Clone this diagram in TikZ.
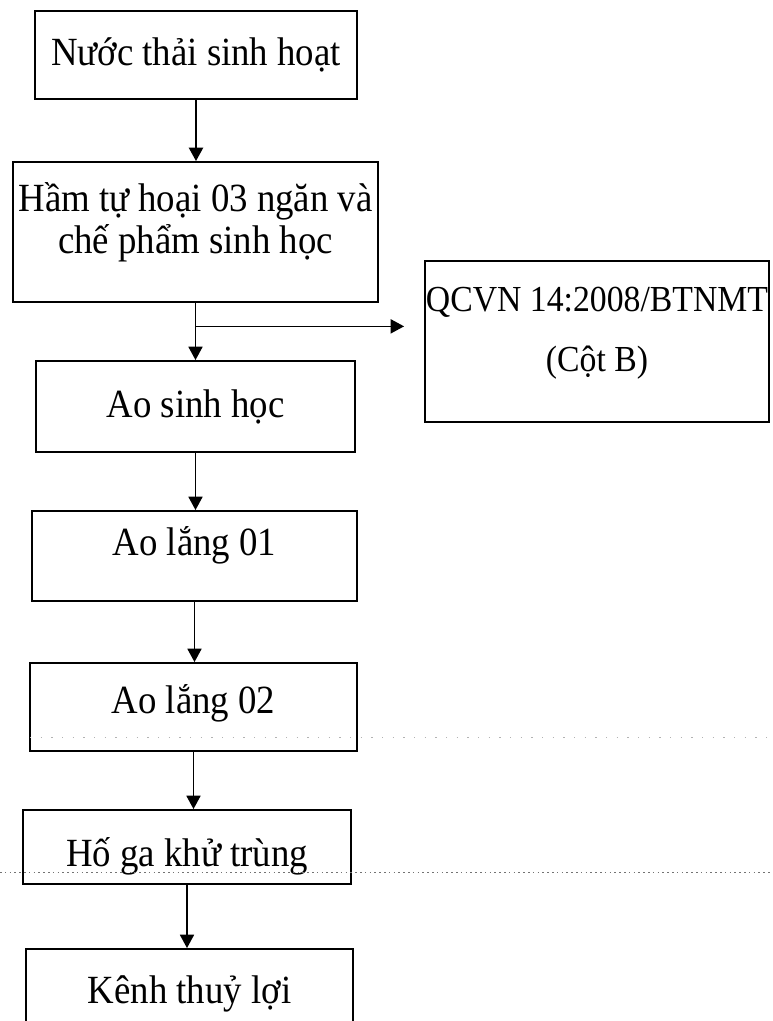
\documentclass[tikz,border=0pt]{standalone}
\usepackage{fontspec}
\setmainfont{Liberation Serif}[FakeStretch=0.92]
\usetikzlibrary{arrows.meta, calc}
\newcommand{\pxlen}{0.75pt}
\tikzset{
  >={Triangle[length=10pt, width=10.5pt]},
  box/.style={rectangle, draw=black, line width=1.4pt, align=center, inner sep=2pt,
              font=\fontsize{30}{31}\selectfont},
  boxq/.style={box, inner xsep=0pt, font=\fontsize{27.5}{45}\selectfont},
  flow/.style={->, line width=1.2pt, draw=black},
  scan/.style={black!55, line width=0.6pt, dash pattern=on 1.2pt off 2.4pt},
  scanf/.style={black!30, line width=0.6pt, dash pattern=on 1pt off 7pt},
}
\begin{document}
\begin{tikzpicture}[x=0.75pt, y=-0.75pt]
  \useasboundingbox (0,0) rectangle (772,1021);
  % treatment chain
  \node[box, minimum width=322*\pxlen, minimum height=88*\pxlen] (src) at (196,55) {Nước thải sinh hoạt};
  \node[box, minimum width=365*\pxlen, minimum height=140*\pxlen, text depth=21pt] (tank) at (195.5,232) {Hầm tự hoại 03 ngăn và\\chế phẩm sinh học};
  \node[box, minimum width=319*\pxlen, minimum height=91*\pxlen] (pond) at (195.5,406.5) {Ao sinh học};
  \node[box, minimum width=325*\pxlen, minimum height=90*\pxlen, text depth=22pt] (settlea) at (194.5,556) {Ao lắng 01};
  \node[box, minimum width=327*\pxlen, minimum height=88*\pxlen, text depth=12pt] (settleb) at (193.5,707) {Ao lắng 02};
  \node[box, minimum width=328*\pxlen, minimum height=74*\pxlen, text height=36pt] (disinf) at (187,847) {Hố ga khử trùng};
  \node[box, minimum width=327*\pxlen, minimum height=90*\pxlen] (canal) at (189.5,994) {Kênh thuỷ lợi};
  % standard
  \node[boxq, minimum width=344*\pxlen, minimum height=161*\pxlen, text depth=18pt] (qcvn) at (597,341.5) {QCVN 14:2008/BTNMT\\(Cột B)};
  % connectors
  \draw[flow, line width=1.6pt] (src.south) -- (src.south |- tank.north);
  \draw[flow] (tank.south) -- (tank.south |- pond.north);
  \coordinate (split) at ($(tank.south)!0.41!(tank.south |- pond.north)$);
  \draw[flow, shorten >=15pt] (split) -- (split -| qcvn.west);
  \draw[flow] (pond.south) -- (pond.south |- settlea.north);
  \draw[flow] (settlea.south) -- (settlea.south |- settleb.north);
  \draw[flow] (settleb.south) -- (settleb.south |- disinf.north);
  \draw[flow] (disinf.south) -- (disinf.south |- canal.north);
  % scan traces
  \draw[scanf] (30,737) -- (772,737);
  \draw[scan] (0,872) -- (772,872);
\end{tikzpicture}
\end{document}
